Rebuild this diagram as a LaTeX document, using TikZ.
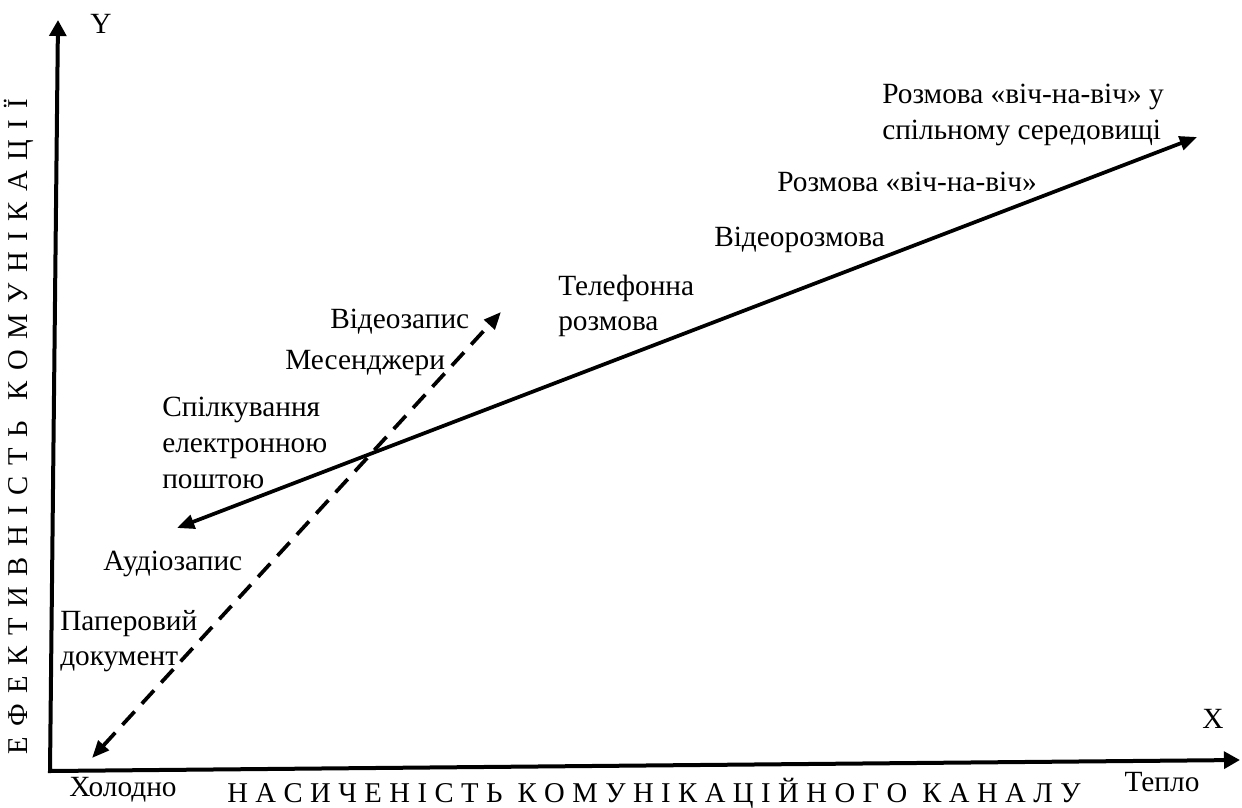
\documentclass[tikz,border=0pt]{standalone}
\usepackage{fontspec}
\setmainfont{Liberation Serif}
\usetikzlibrary{arrows.meta,positioning}

\begin{document}
\begin{tikzpicture}[x=0.75pt,y=-0.75pt,
    axis/.style={line width=3pt, {Triangle[length=12pt,width=12.5pt]}-{Triangle[length=12pt,width=12.5pt]}},
    warm/.style={line width=2.8pt, {Triangle[length=13pt,width=10.5pt]}-{Triangle[length=13pt,width=10.5pt]}},
    cold/.style={warm, dash pattern=on 13.5pt off 8pt},
    lbl/.style={font=\fontsize{22}{26.8}\selectfont, inner sep=0pt, anchor=west, align=left},
    axlbl/.style={font=\fontsize{21.5}{26}\selectfont, inner sep=0pt, anchor=center},
  ]
    \useasboundingbox (0,0) rectangle (1242,807);

    % Axes
    \coordinate (O) at (50,771);
    \coordinate (ytip) at (58,20);
    \coordinate (xtip) at (1240,760);
    \draw[axis] (ytip) -- (O) -- (xtip);
    \node[lbl, anchor=center] (ylet) at (101,24) {Y};
    \node[lbl, anchor=center] (xlet) at (1213,719) {X};
    \node[lbl] (cold) at (69,790) {Холодно};
    \node[lbl, anchor=center] (warm) at (1162,782) {Тепло};
    \node[axlbl] (xname) at (654,793)
        {\spaceskip=5.6pt Н А С И Ч Е Н І С Т Ь\ \ К О М У Н І К А Ц І Й Н О Г О\ \ К А Н А Л У};
    \node[axlbl, rotate=90] (yname) at (19,427)
        {\spaceskip=7.9pt Е Ф Е К Т И В Н І С Т Ь\ \ К О М У Н І К А Ц І Ї};

    % Channels
    \coordinate (wlo) at (177,528);
    \coordinate (whi) at (1197,137);
    \coordinate (clo) at (92,758);
    \coordinate (chi) at (501,312);
    \draw[warm] (wlo) -- (whi);
    \draw[cold] (clo) -- (chi);

    \node[lbl] (shared) at (882,115) {Розмова «віч-на-віч» у\\спільному середовищі};
    \node[lbl] (face) at (777,182) {Розмова «віч-на-віч»};
    \node[lbl] (video) at (714,240) {Відеорозмова};
    \node[lbl] (phone) at (558,306) {Телефонна\\розмова};
    \node[lbl] (record) at (330,322) {Відеозапис};
    \node[lbl] (msg) at (285,363) {Месенджери};
    \node[lbl] (mail) at (162,443) {Спілкування\\електронною\\поштою};
    \node[lbl] (audio) at (103,564) {Аудіозапис};
    \node[lbl] (paper) at (60,641) {Паперовий\\документ};
\end{tikzpicture}
\end{document}
